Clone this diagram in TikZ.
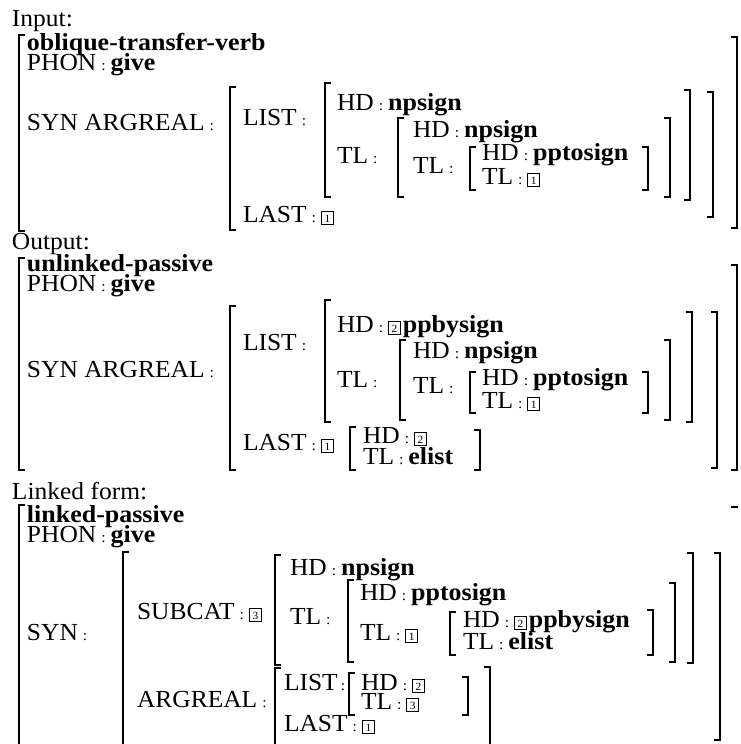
\documentclass[tikz,border=0pt]{standalone}
\usepackage{fontspec}
\setmainfont{Liberation Serif}[FakeStretch=1.04,BoldFeatures={FakeStretch=1.06}]
% small colon between a feature and its value
\newcommand{\cl}{\hspace{5pt}{\fontsize{15}{15}\selectfont :}\hspace{5pt}}
% tighter colon for cramped rows
\newcommand{\clt}{\hspace{3pt}{\fontsize{15}{15}\selectfont :}}
% boxed re-entrancy tag
\newcommand{\tg}[1]{{\setlength{\fboxsep}{2.2pt}\setlength{\fboxrule}{0.9pt}\fbox{\fontsize{11}{11}\selectfont\rule{0pt}{8pt}\makebox[6.5pt]{#1}}}}
% left and right square brackets: x, top, bottom
\newcommand{\Lbk}[3]{\draw[brk] (#1+6,#2) -- (#1,#2) -- (#1,#3) -- (#1+6,#3);}
\newcommand{\Rbk}[3]{\draw[brk] (#1-6,#2) -- (#1,#2) -- (#1,#3) -- (#1-6,#3);}
\begin{document}
\begin{tikzpicture}[x=1pt,y=-1pt,
  lbl/.style={anchor=base west,inner sep=0pt,outer sep=0pt,font=\fontsize{24.5}{25}\selectfont},
  brk/.style={line width=1.5pt}]
\fill[white] (0,0) rectangle (740,744);
\useasboundingbox (0,0) rectangle (740,744);

% ---------------- Input ----------------
\node[lbl] (inHead) at (12,27) {Input:};
\Lbk{19}{35}{231} \Rbk{737}{37}{228}
\node[lbl] (inType) at (27,50) {\textbf{oblique-transfer-verb}};
\node[lbl] (inPhon) at (27,70) {PHON\cl\textbf{give}};
\node[lbl] (inSyn) at (27,130) {SYN ARGREAL\cl};
\Lbk{230}{87}{230} \Rbk{713}{92}{217}
\node[lbl] (inList) at (243,125) {LIST\cl};
\Lbk{325}{83}{197} \Rbk{690}{90}{200}
\node[lbl] (inHdA) at (337,110) {HD\cl\textbf{npsign}};
\node[lbl] (inTlA) at (337,163) {TL\cl};
\Lbk{398}{118}{197} \Rbk{670}{118}{197}
\node[lbl] (inHdB) at (413,137) {HD\cl\textbf{npsign}};
\node[lbl] (inTlB) at (413,173) {TL\cl};
\Lbk{470}{147}{190} \Rbk{648}{147}{190}
\node[lbl] (inHdC) at (482,160) {HD\cl\textbf{pptosign}};
\node[lbl] (inTlC) at (482,184) {TL\cl\tg{1}};
\node[lbl] (inLast) at (243,222) {LAST\cl\tg{1}};

% ---------------- Output ----------------
\node[lbl] (outHead) at (12,249) {Output:};
\Lbk{19}{258}{470} \Rbk{737}{265}{470}
\node[lbl] (outType) at (27,271) {\textbf{unlinked-passive}};
\node[lbl] (outPhon) at (27,291) {PHON\cl\textbf{give}};
\node[lbl] (outSyn) at (27,377) {SYN ARGREAL\cl};
\Lbk{230}{306}{470} \Rbk{717}{312}{468}
\node[lbl] (outList) at (243,350) {LIST\cl};
\Lbk{325}{300}{422} \Rbk{692}{312}{422}
\node[lbl] (outHdA) at (337,332) {HD\cl\tg{2}\hspace{2pt}\textbf{ppbysign}};
\node[lbl] (outTlA) at (337,387) {TL\cl};
\Lbk{400}{340}{420} \Rbk{670}{340}{420}
\node[lbl] (outHdB) at (413,358) {HD\cl\textbf{npsign}};
\node[lbl] (outTlB) at (413,393) {TL\cl};
\Lbk{470}{372}{413} \Rbk{648}{372}{413}
\node[lbl] (outHdC) at (482,385) {HD\cl\textbf{pptosign}};
\node[lbl] (outTlC) at (482,408) {TL\cl\tg{1}};
\node[lbl] (outLast) at (243,450) {LAST\cl\tg{1}};
\Lbk{350}{427}{470} \Rbk{480}{430}{470}
\node[lbl] (outHdD) at (363,443) {HD\cl\tg{2}};
\node[lbl] (outTlD) at (363,464) {TL\cl\textbf{elist}};

% ---------------- Linked form ----------------
\node[lbl] (lkHead) at (12,499) {Linked form:};
\Lbk{19}{505}{746}
\draw[brk] (731,507) -- (738,507);
\node[lbl] (lkType) at (27,522) {\textbf{linked-passive}};
\node[lbl] (lkPhon) at (27,542) {PHON\cl\textbf{give}};
\node[lbl] (lkSyn) at (27,640) {SYN\cl};
\Lbk{123}{552}{746} \Rbk{720}{553}{740}
\node[lbl] (lkSub) at (137,619) {SUBCAT\cl\tg{3}};
\Lbk{275}{555}{665} \Rbk{693}{553}{663}
\node[lbl] (lkHdA) at (290,575) {HD\cl\textbf{npsign}};
\node[lbl] (lkTlA) at (290,624) {TL\cl};
\Lbk{348}{580}{662} \Rbk{675}{583}{662}
\node[lbl] (lkHdB) at (360,600) {HD\cl\textbf{pptosign}};
\node[lbl] (lkTlB) at (360,640) {TL\cl\tg{1}};
\Lbk{450}{612}{655} \Rbk{653}{610}{655}
\node[lbl] (lkHdC) at (463,627) {HD\cl\tg{2}\hspace{2pt}\textbf{ppbysign}};
\node[lbl] (lkTlC) at (463,649) {TL\cl\textbf{elist}};
\node[lbl] (lkArg) at (137,707) {ARGREAL\cl};
\Lbk{275}{668}{746} \Rbk{490}{667}{746}
\node[lbl] (lkList) at (284,690) {LIST\clt};
\Lbk{349}{673}{715} \Rbk{468}{677}{715}
\node[lbl] (lkHdD) at (361,690) {HD\cl\tg{2}};
\node[lbl] (lkTlD) at (361,709) {TL\cl\tg{3}};
\node[lbl] (lkLast) at (284,731) {LAST\cl\tg{1}};
\end{tikzpicture}
\end{document}
